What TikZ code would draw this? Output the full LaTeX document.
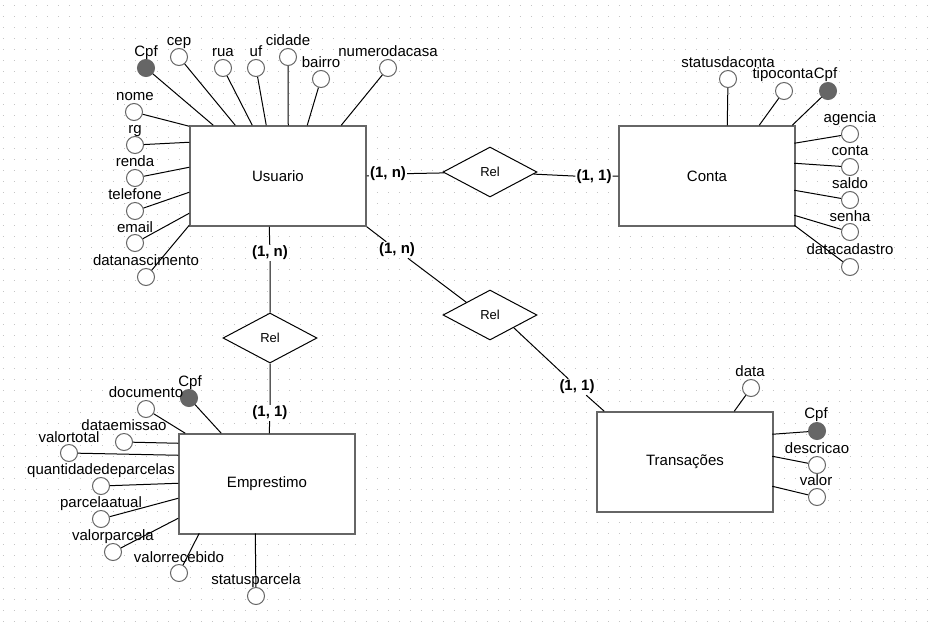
\documentclass[tikz,border=0pt]{standalone}
\usepackage{fontspec}
\setmainfont{Liberation Sans}
\usetikzlibrary{shapes.geometric,calc}
\definecolor{gray66}{HTML}{666666}
\definecolor{gridc}{HTML}{C4C4C4}
\begin{document}
\begin{tikzpicture}[x=1pt,y=-1pt,
  ent/.style={draw=gray66, line width=1.5pt, fill=white, minimum width=176pt, minimum height=100pt, inner sep=0pt, font=\fontsize{15}{18}\selectfont},
  rel/.style={diamond, draw=black, line width=1pt, fill=white, minimum width=94pt, minimum height=50pt, inner sep=0pt, font=\fontsize{13}{15}\selectfont},
  attr/.style={circle, draw=gray66, line width=1pt, minimum size=17pt, inner sep=0pt},
  txt/.style={inner sep=0pt, text height=11pt, text depth=3pt, font=\fontsize{15}{18}\selectfont},
  card/.style={fill=white, inner sep=1pt, font=\bfseries\fontsize{15}{18}\selectfont},
  conn/.style={draw=black, line width=1pt},
  gridl/.style={draw=gridc, line width=1pt, dash pattern=on 1pt off 10pt}]
\useasboundingbox (0,0) rectangle (933,622);
\fill[white] (0,0) rectangle (933,622);
\foreach \j in {0,...,56} \draw[gridl] (2.8,{5+11*\j}) -- (933,{5+11*\j});

% entities
\node[ent] (usu) at (278,176) {Usuario};
\node[ent] (con) at (707,176) {Conta};
\node[ent] (emp) at (267,484) {Emprestimo};
\node[ent] (tra) at (685,462) {Transações};

% relationships
\node[rel] (r1) at (490,172) {Rel};
\node[rel] (r2) at (270,338) {Rel};
\node[rel] (r3) at (490,315) {Rel};

% cardinalities and connectors
\node[card] (k1) at (388,174) {(1, n)};
\draw[conn] (usu.east) -- (k1) -- (r1);
\node[card] (k2) at (594,177) {(1, 1)};
\draw[conn] (r1) -- (k2) -- (con.west);
\node[card] (k3) at (270,253) {(1, n)};
\draw[conn] ($(usu.south west)+(80,0)$) -- (k3) -- (r2);
\node[card] (k4) at (270,413) {(1, 1)};
\draw[conn] (r2) -- (k4) -- ($(emp.north west)+(91,0)$);
\node[card] (k5) at (397,250) {(1, n)};
\draw[conn] (usu.south east) -- (k5) -- (r3.north west);
\node[card] (k6) at (577,387) {(1, 1)};
\draw[conn] (r3.south east) -- (k6) -- ($(tra.north west)+(8,0)$);

% attributes
\foreach \cx/\cy/\lx/\ly/\t/\f/\e/\dx/\dy [count=\i] in {
  146/68/146/52/Cpf/gray66/usu/24/0,
  179/57/179/41/cep/white/usu/46/0,
  223/68/223/52/rua/white/usu/63/0,
  256/68/256/52/uf/white/usu/77/0,
  288/57/288/41/cidade/white/usu/99/0,
  321/79/321/63/bairro/white/usu/118/0,
  388/68/388/52/numerodacasa/white/usu/152/0,
  134/112/135/96/nome/white/usu/0/1,
  135/145/135/129/rg/white/usu/0/17,
  135/178/135/162/renda/white/usu/0/42,
  135/211/135/195/telefone/white/usu/0/67,
  135/243/135/228/email/white/usu/0/88,
  146/277/146/261/datanascimento/white/usu/0/100,
  728/79/728/63/statusdaconta/white/con/109/0,
  784/91/783/74/tipoconta/white/con/141/0,
  828/91/825.5/74/Cpf/gray66/con/174/0,
  850/134/850/118/agencia/white/con/176/18,
  850/167/850/151/conta/white/con/176/38,
  850/200/850/184/saldo/white/con/176/65,
  850/232/850/217/senha/white/con/176/90,
  850/267/850/250/datacadastro/white/con/176/100,
  189/398/190/382/Cpf/gray66/emp/43/0,
  146/409/146/393/documento/white/emp/7/0,
  124/442/124/426/dataemissao/white/emp/0/10,
  69/453/69/438/valortotal/white/emp/0/22,
  101/486/101/470/quantidadedeparcelas/white/emp/0/50,
  101/519/101/503/parcelaatual/white/emp/0/65,
  113/552/113/536/valorparcela/white/emp/0/85,
  179/573/179/558/valorrecebido/white/emp/21/100,
  256/596/256/580/statusparcela/white/emp/77/100,
  751/388/750/372/data/white/tra/138/0,
  817/431/816/414/Cpf/gray66/tra/176/23,
  817/465/817/449/descricao/white/tra/176/45,
  817/497/816/481/valor/white/tra/176/75}
{
  \node[attr, fill=\f] (c\i) at (\cx,\cy) {};
  \node[txt] (t\i) at (\lx,\ly) {\t};
  \draw[conn] ($(\e.north west)+(\dx,\dy)$) -- (c\i);
}
\end{tikzpicture}
\end{document}
